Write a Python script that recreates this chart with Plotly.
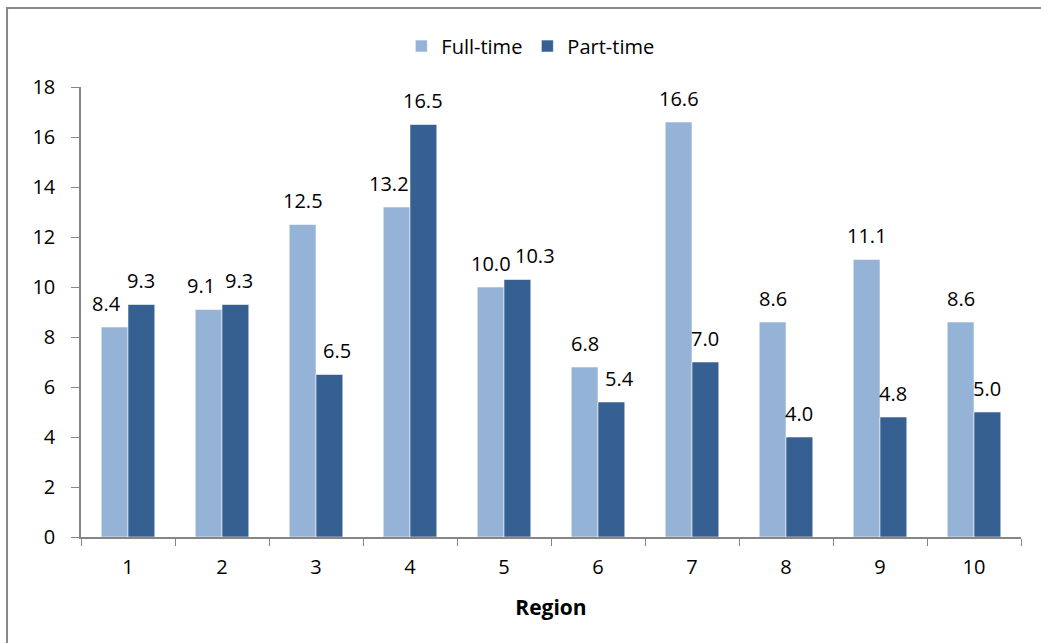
import plotly.graph_objects as go

regions = ["1", "2", "3", "4", "5", "6", "7", "8", "9", "10"]
full_time = [8.4, 9.1, 12.5, 13.2, 10.0, 6.8, 16.6, 8.6, 11.1, 8.6]
part_time = [9.3, 9.3, 6.5, 16.5, 10.3, 5.4, 7.0, 4.0, 4.8, 5.0]
y_ticks = [0, 2, 4, 6, 8, 10, 12, 14, 16, 18]

# label nudges (pixels, styling only) to mirror manual label placement in the original
nudge_full = [-8, -8, 0, -8, 0, 0, 0, 0, 0, 0]
nudge_part = [0, 4, 8, 0, 18, 8, 0, 0, 0, 0]

FONT = "'Open Sans', Lato, sans-serif"
FULL_COLOR = "#95B3D7"
PART_COLOR = "#366092"

fig = go.Figure()
fig.add_trace(go.Bar(
    name="Full-time", x=regions, y=full_time,
    marker=dict(color=FULL_COLOR, line=dict(width=1, color="rgba(255,255,255,0.55)")),
))
fig.add_trace(go.Bar(
    name="Part-time", x=regions, y=part_time,
    marker=dict(color=PART_COLOR, line=dict(width=1, color="rgba(255,255,255,0.55)")),
))

ML, MR, MT, MB = 81, 20, 87, 106
PLOT_W = 1041 - ML - MR
cat_w = PLOT_W / len(regions)
bargap = 0.43
half_bar = cat_w * (1 - bargap) / 4

annotations = []
for i, r in enumerate(regions):
    # x given as category index so numeric-looking labels are not misread
    annotations.append(dict(x=i, y=full_time[i], xref="x", yref="y",
                            text=f"{full_time[i]:.1f}", showarrow=False,
                            xshift=-half_bar + nudge_full[i], yshift=24,
                            yanchor="middle", font=dict(size=20, color="#000000")))
    annotations.append(dict(x=i, y=part_time[i], xref="x", yref="y",
                            text=f"{part_time[i]:.1f}", showarrow=False,
                            xshift=half_bar + nudge_part[i], yshift=24,
                            yanchor="middle", font=dict(size=20, color="#000000")))

fig.update_layout(
    width=1041, height=643,
    margin=dict(l=ML, r=MR, t=MT, b=MB, autoexpand=False),
    paper_bgcolor="white", plot_bgcolor="white",
    font=dict(family=FONT, size=20, color="#000000"),
    barmode="group", bargap=bargap, bargroupgap=0,
    showlegend=True,
    legend=dict(orientation="h", x=0.478, xanchor="center", y=1.091, yanchor="middle",
                font=dict(size=20), itemwidth=30, traceorder="normal",
                bgcolor="rgba(0,0,0,0)"),
    xaxis=dict(
        type="category", range=[-0.5, 9.5], showgrid=False, showline=True,
        linecolor="#868686", linewidth=1.5,
        ticks="outside", ticklen=7, tickcolor="#868686", tickson="boundaries",
        tickfont=dict(size=20), ticklabelstandoff=11, automargin=False,
        title=dict(text="<b>Region</b>", font=dict(size=21), standoff=22),
    ),
    yaxis=dict(
        range=[0, 18], tickvals=y_ticks, showgrid=False, showline=True,
        linecolor="#868686", linewidth=1.5, ticks="outside", ticklen=8,
        tickcolor="#868686", tickfont=dict(size=20), zeroline=False,
        ticklabelstandoff=12, automargin=False,
    ),
    annotations=annotations,
    shapes=[dict(
        type="rect", xref="paper", yref="paper",
        x0=-0.0787, x1=1.1, y0=-0.3, y1=1.1756,
        line=dict(color="#888888", width=2), fillcolor="rgba(0,0,0,0)", layer="below",
    )],
)

fig.write_html("out.html", config={"displayModeBar": False},
               post_script="document.body.style.margin='0px';")
